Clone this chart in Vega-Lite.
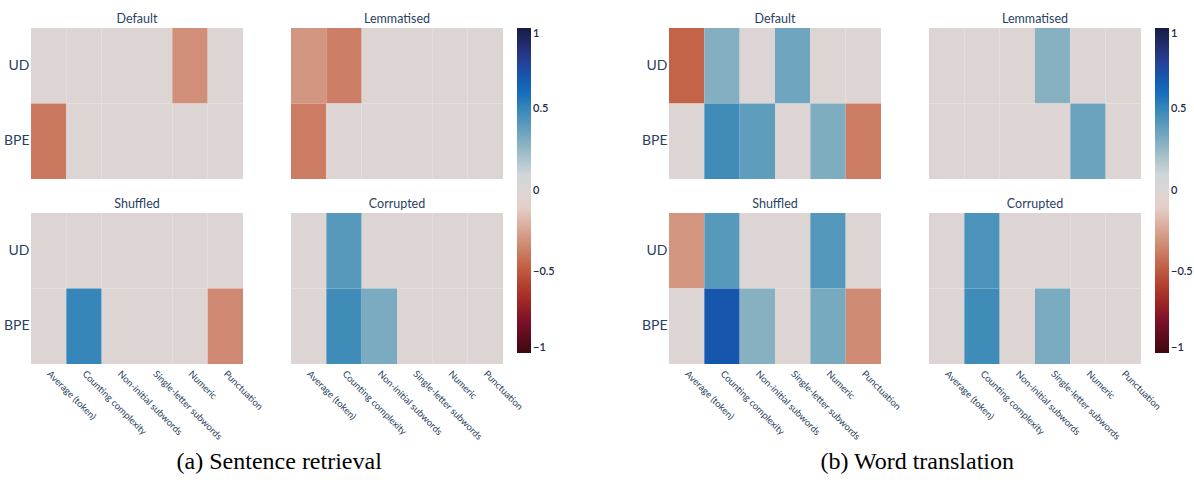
{
  "$schema": "https://vega.github.io/schema/vega-lite/v6.json",
  "background": "white",
  "padding": {"left": 3, "top": 12, "right": 0, "bottom": 0},
  "datasets": {
    "cells": [
      {"group": "a", "panel": "Default", "tokenizer": "UD", "feature": "Average (token)", "value": 0},
      {"group": "a", "panel": "Default", "tokenizer": "UD", "feature": "Counting complexity", "value": 0},
      {"group": "a", "panel": "Default", "tokenizer": "UD", "feature": "Non-initial subwords", "value": 0},
      {"group": "a", "panel": "Default", "tokenizer": "UD", "feature": "Single-letter subwords", "value": 0},
      {"group": "a", "panel": "Default", "tokenizer": "UD", "feature": "Numeric", "value": -0.32},
      {"group": "a", "panel": "Default", "tokenizer": "UD", "feature": "Punctuation", "value": 0},
      {"group": "a", "panel": "Default", "tokenizer": "BPE", "feature": "Average (token)", "value": -0.39},
      {"group": "a", "panel": "Default", "tokenizer": "BPE", "feature": "Counting complexity", "value": 0},
      {"group": "a", "panel": "Default", "tokenizer": "BPE", "feature": "Non-initial subwords", "value": 0},
      {"group": "a", "panel": "Default", "tokenizer": "BPE", "feature": "Single-letter subwords", "value": 0},
      {"group": "a", "panel": "Default", "tokenizer": "BPE", "feature": "Numeric", "value": 0},
      {"group": "a", "panel": "Default", "tokenizer": "BPE", "feature": "Punctuation", "value": 0},
      {"group": "a", "panel": "Lemmatised", "tokenizer": "UD", "feature": "Average (token)", "value": -0.3},
      {"group": "a", "panel": "Lemmatised", "tokenizer": "UD", "feature": "Counting complexity", "value": -0.37},
      {"group": "a", "panel": "Lemmatised", "tokenizer": "UD", "feature": "Non-initial subwords", "value": 0},
      {"group": "a", "panel": "Lemmatised", "tokenizer": "UD", "feature": "Single-letter subwords", "value": 0},
      {"group": "a", "panel": "Lemmatised", "tokenizer": "UD", "feature": "Numeric", "value": 0},
      {"group": "a", "panel": "Lemmatised", "tokenizer": "UD", "feature": "Punctuation", "value": 0},
      {"group": "a", "panel": "Lemmatised", "tokenizer": "BPE", "feature": "Average (token)", "value": -0.38},
      {"group": "a", "panel": "Lemmatised", "tokenizer": "BPE", "feature": "Counting complexity", "value": 0},
      {"group": "a", "panel": "Lemmatised", "tokenizer": "BPE", "feature": "Non-initial subwords", "value": 0},
      {"group": "a", "panel": "Lemmatised", "tokenizer": "BPE", "feature": "Single-letter subwords", "value": 0},
      {"group": "a", "panel": "Lemmatised", "tokenizer": "BPE", "feature": "Numeric", "value": 0},
      {"group": "a", "panel": "Lemmatised", "tokenizer": "BPE", "feature": "Punctuation", "value": 0},
      {"group": "a", "panel": "Shuffled", "tokenizer": "UD", "feature": "Average (token)", "value": 0},
      {"group": "a", "panel": "Shuffled", "tokenizer": "UD", "feature": "Counting complexity", "value": 0},
      {"group": "a", "panel": "Shuffled", "tokenizer": "UD", "feature": "Non-initial subwords", "value": 0},
      {"group": "a", "panel": "Shuffled", "tokenizer": "UD", "feature": "Single-letter subwords", "value": 0},
      {"group": "a", "panel": "Shuffled", "tokenizer": "UD", "feature": "Numeric", "value": 0},
      {"group": "a", "panel": "Shuffled", "tokenizer": "UD", "feature": "Punctuation", "value": 0},
      {"group": "a", "panel": "Shuffled", "tokenizer": "BPE", "feature": "Average (token)", "value": 0},
      {"group": "a", "panel": "Shuffled", "tokenizer": "BPE", "feature": "Counting complexity", "value": 0.5},
      {"group": "a", "panel": "Shuffled", "tokenizer": "BPE", "feature": "Non-initial subwords", "value": 0},
      {"group": "a", "panel": "Shuffled", "tokenizer": "BPE", "feature": "Single-letter subwords", "value": 0},
      {"group": "a", "panel": "Shuffled", "tokenizer": "BPE", "feature": "Numeric", "value": 0},
      {"group": "a", "panel": "Shuffled", "tokenizer": "BPE", "feature": "Punctuation", "value": -0.34},
      {"group": "a", "panel": "Corrupted", "tokenizer": "UD", "feature": "Average (token)", "value": 0},
      {"group": "a", "panel": "Corrupted", "tokenizer": "UD", "feature": "Counting complexity", "value": 0.41},
      {"group": "a", "panel": "Corrupted", "tokenizer": "UD", "feature": "Non-initial subwords", "value": 0},
      {"group": "a", "panel": "Corrupted", "tokenizer": "UD", "feature": "Single-letter subwords", "value": 0},
      {"group": "a", "panel": "Corrupted", "tokenizer": "UD", "feature": "Numeric", "value": 0},
      {"group": "a", "panel": "Corrupted", "tokenizer": "UD", "feature": "Punctuation", "value": 0},
      {"group": "a", "panel": "Corrupted", "tokenizer": "BPE", "feature": "Average (token)", "value": 0},
      {"group": "a", "panel": "Corrupted", "tokenizer": "BPE", "feature": "Counting complexity", "value": 0.47},
      {"group": "a", "panel": "Corrupted", "tokenizer": "BPE", "feature": "Non-initial subwords", "value": 0.32},
      {"group": "a", "panel": "Corrupted", "tokenizer": "BPE", "feature": "Single-letter subwords", "value": 0},
      {"group": "a", "panel": "Corrupted", "tokenizer": "BPE", "feature": "Numeric", "value": 0},
      {"group": "a", "panel": "Corrupted", "tokenizer": "BPE", "feature": "Punctuation", "value": 0},
      {"group": "b", "panel": "Default", "tokenizer": "UD", "feature": "Average (token)", "value": -0.46},
      {"group": "b", "panel": "Default", "tokenizer": "UD", "feature": "Counting complexity", "value": 0.3},
      {"group": "b", "panel": "Default", "tokenizer": "UD", "feature": "Non-initial subwords", "value": 0},
      {"group": "b", "panel": "Default", "tokenizer": "UD", "feature": "Single-letter subwords", "value": 0.35},
      {"group": "b", "panel": "Default", "tokenizer": "UD", "feature": "Numeric", "value": 0},
      {"group": "b", "panel": "Default", "tokenizer": "UD", "feature": "Punctuation", "value": 0},
      {"group": "b", "panel": "Default", "tokenizer": "BPE", "feature": "Average (token)", "value": 0},
      {"group": "b", "panel": "Default", "tokenizer": "BPE", "feature": "Counting complexity", "value": 0.47},
      {"group": "b", "panel": "Default", "tokenizer": "BPE", "feature": "Non-initial subwords", "value": 0.39},
      {"group": "b", "panel": "Default", "tokenizer": "BPE", "feature": "Single-letter subwords", "value": 0},
      {"group": "b", "panel": "Default", "tokenizer": "BPE", "feature": "Numeric", "value": 0.31},
      {"group": "b", "panel": "Default", "tokenizer": "BPE", "feature": "Punctuation", "value": -0.38},
      {"group": "b", "panel": "Lemmatised", "tokenizer": "UD", "feature": "Average (token)", "value": 0},
      {"group": "b", "panel": "Lemmatised", "tokenizer": "UD", "feature": "Counting complexity", "value": 0},
      {"group": "b", "panel": "Lemmatised", "tokenizer": "UD", "feature": "Non-initial subwords", "value": 0},
      {"group": "b", "panel": "Lemmatised", "tokenizer": "UD", "feature": "Single-letter subwords", "value": 0.29},
      {"group": "b", "panel": "Lemmatised", "tokenizer": "UD", "feature": "Numeric", "value": 0},
      {"group": "b", "panel": "Lemmatised", "tokenizer": "UD", "feature": "Punctuation", "value": 0},
      {"group": "b", "panel": "Lemmatised", "tokenizer": "BPE", "feature": "Average (token)", "value": 0},
      {"group": "b", "panel": "Lemmatised", "tokenizer": "BPE", "feature": "Counting complexity", "value": 0},
      {"group": "b", "panel": "Lemmatised", "tokenizer": "BPE", "feature": "Non-initial subwords", "value": 0},
      {"group": "b", "panel": "Lemmatised", "tokenizer": "BPE", "feature": "Single-letter subwords", "value": 0},
      {"group": "b", "panel": "Lemmatised", "tokenizer": "BPE", "feature": "Numeric", "value": 0.36},
      {"group": "b", "panel": "Lemmatised", "tokenizer": "BPE", "feature": "Punctuation", "value": 0},
      {"group": "b", "panel": "Shuffled", "tokenizer": "UD", "feature": "Average (token)", "value": -0.3},
      {"group": "b", "panel": "Shuffled", "tokenizer": "UD", "feature": "Counting complexity", "value": 0.41},
      {"group": "b", "panel": "Shuffled", "tokenizer": "UD", "feature": "Non-initial subwords", "value": 0},
      {"group": "b", "panel": "Shuffled", "tokenizer": "UD", "feature": "Single-letter subwords", "value": 0},
      {"group": "b", "panel": "Shuffled", "tokenizer": "UD", "feature": "Numeric", "value": 0.42},
      {"group": "b", "panel": "Shuffled", "tokenizer": "UD", "feature": "Punctuation", "value": 0},
      {"group": "b", "panel": "Shuffled", "tokenizer": "BPE", "feature": "Average (token)", "value": 0},
      {"group": "b", "panel": "Shuffled", "tokenizer": "BPE", "feature": "Counting complexity", "value": 0.7},
      {"group": "b", "panel": "Shuffled", "tokenizer": "BPE", "feature": "Non-initial subwords", "value": 0.29},
      {"group": "b", "panel": "Shuffled", "tokenizer": "BPE", "feature": "Single-letter subwords", "value": 0},
      {"group": "b", "panel": "Shuffled", "tokenizer": "BPE", "feature": "Numeric", "value": 0.33},
      {"group": "b", "panel": "Shuffled", "tokenizer": "BPE", "feature": "Punctuation", "value": -0.33},
      {"group": "b", "panel": "Corrupted", "tokenizer": "UD", "feature": "Average (token)", "value": 0},
      {"group": "b", "panel": "Corrupted", "tokenizer": "UD", "feature": "Counting complexity", "value": 0.44},
      {"group": "b", "panel": "Corrupted", "tokenizer": "UD", "feature": "Non-initial subwords", "value": 0},
      {"group": "b", "panel": "Corrupted", "tokenizer": "UD", "feature": "Single-letter subwords", "value": 0},
      {"group": "b", "panel": "Corrupted", "tokenizer": "UD", "feature": "Numeric", "value": 0},
      {"group": "b", "panel": "Corrupted", "tokenizer": "UD", "feature": "Punctuation", "value": 0},
      {"group": "b", "panel": "Corrupted", "tokenizer": "BPE", "feature": "Average (token)", "value": 0},
      {"group": "b", "panel": "Corrupted", "tokenizer": "BPE", "feature": "Counting complexity", "value": 0.47},
      {"group": "b", "panel": "Corrupted", "tokenizer": "BPE", "feature": "Non-initial subwords", "value": 0},
      {"group": "b", "panel": "Corrupted", "tokenizer": "BPE", "feature": "Single-letter subwords", "value": 0.32},
      {"group": "b", "panel": "Corrupted", "tokenizer": "BPE", "feature": "Numeric", "value": 0},
      {"group": "b", "panel": "Corrupted", "tokenizer": "BPE", "feature": "Punctuation", "value": 0}
    ]
  },
  "config": {
    "font": "Lato",
    "view": {"stroke": null},
    "axis": {"labelFont": "Lato", "labelColor": "#2a3f5f", "domain": false, "ticks": false, "grid": false, "title": null},
    "header": {"labelFont": "Lato", "labelColor": "#2a3f5f", "labelFontSize": 12.5, "labelPadding": 3, "title": null},
    "legend": {"labelFont": "Lato", "labelColor": "#1f2d4a", "labelFontSize": 11, "labelFontWeight": 600},
    "title": {"font": "Liberation Serif", "fontSize": 24, "fontWeight": "normal", "color": "black", "anchor": "middle"}
  },
  "spacing": 86,
  "resolve": {"scale": {"color": "independent"}, "legend": {"color": "independent"}},
  "hconcat": [
    {
      "data": {"name": "cells"},
      "transform": [{"filter": "datum.group === 'a'"}],
      "title": {"text": "(a) Sentence retrieval", "orient": "bottom", "offset": 9, "anchor": "middle"},
      "facet": {"field": "panel", "type": "nominal", "sort": ["Default", "Lemmatised", "Shuffled", "Corrupted"], "header": {"title": null}},
      "columns": 2,
      "spacing": {"column": 47, "row": 18},
      "spec": {
        "width": 212,
        "height": 151,
        "mark": {"type": "rect", "strokeWidth": 0},
        "encoding": {
          "x": {"field": "feature", "type": "nominal", "sort": ["Average (token)", "Counting complexity", "Non-initial subwords", "Single-letter subwords", "Numeric", "Punctuation"], "axis": {"labelAngle": 45, "labelAlign": "left", "labelBaseline": "middle", "labelFontSize": 9.5, "labelPadding": 8, "labelLimit": 200}},
          "y": {"field": "tokenizer", "type": "nominal", "sort": ["UD", "BPE"], "axis": {"labelFontSize": 14, "labelPadding": 2}},
          "color": {
            "field": "value", "type": "quantitative",
            "scale": {"type": "linear", "interpolate": "rgb",
              "domain": [-1, -0.81818, -0.63636, -0.45455, -0.27273, -0.09091, 0.09091, 0.27273, 0.45455, 0.63636, 0.81818, 1],
              "range": ["rgb(60,9,17)", "rgb(120,14,40)", "rgb(172,48,37)", "rgb(196,101,72)", "rgb(213,157,137)", "rgb(230,210,204)", "rgb(210,216,219)", "rgb(142,181,194)", "rgb(69,144,185)", "rgb(11,102,189)", "rgb(41,58,143)", "rgb(23,28,66)"]},
            "legend": {"title": null, "gradientLength": 325, "gradientThickness": 14, "offset": -8, "values": [-1, -0.5, 0, 0.5, 1], "labelExpr": "replace(format(datum.value, '~g'), '-', '\u2212')", "gradientStrokeWidth": 0, "labelOffset": 2}
          }
        }
      }
    },
    {
      "data": {"name": "cells"},
      "transform": [{"filter": "datum.group === 'b'"}],
      "title": {"text": "(b) Word translation", "orient": "bottom", "offset": 9, "anchor": "middle"},
      "facet": {"field": "panel", "type": "nominal", "sort": ["Default", "Lemmatised", "Shuffled", "Corrupted"], "header": {"title": null}},
      "columns": 2,
      "spacing": {"column": 47, "row": 18},
      "spec": {
        "width": 212,
        "height": 151,
        "mark": {"type": "rect", "strokeWidth": 0},
        "encoding": {
          "x": {"field": "feature", "type": "nominal", "sort": ["Average (token)", "Counting complexity", "Non-initial subwords", "Single-letter subwords", "Numeric", "Punctuation"], "axis": {"labelAngle": 45, "labelAlign": "left", "labelBaseline": "middle", "labelFontSize": 9.5, "labelPadding": 8, "labelLimit": 200}},
          "y": {"field": "tokenizer", "type": "nominal", "sort": ["UD", "BPE"], "axis": {"labelFontSize": 14, "labelPadding": 2}},
          "color": {
            "field": "value", "type": "quantitative",
            "scale": {"type": "linear", "interpolate": "rgb",
              "domain": [-1, -0.81818, -0.63636, -0.45455, -0.27273, -0.09091, 0.09091, 0.27273, 0.45455, 0.63636, 0.81818, 1],
              "range": ["rgb(60,9,17)", "rgb(120,14,40)", "rgb(172,48,37)", "rgb(196,101,72)", "rgb(213,157,137)", "rgb(230,210,204)", "rgb(210,216,219)", "rgb(142,181,194)", "rgb(69,144,185)", "rgb(11,102,189)", "rgb(41,58,143)", "rgb(23,28,66)"]},
            "legend": {"title": null, "gradientLength": 325, "gradientThickness": 14, "offset": -8, "values": [-1, -0.5, 0, 0.5, 1], "labelExpr": "replace(format(datum.value, '~g'), '-', '\u2212')", "gradientStrokeWidth": 0, "labelOffset": 2}
          }
        }
      }
    }
  ]
}
